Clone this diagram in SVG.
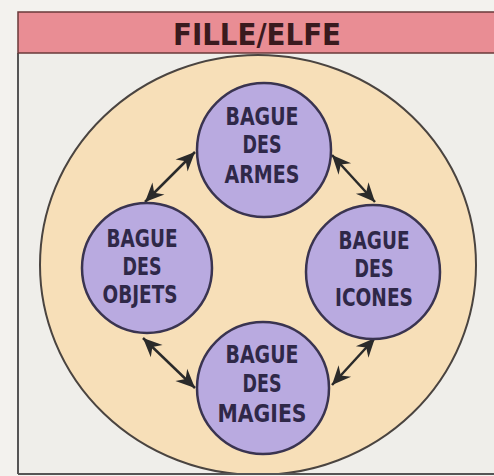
<svg xmlns="http://www.w3.org/2000/svg" width="494" height="476" viewBox="0 0 494 476">
<defs>
<style>
.ring{fill:#b9aae0;stroke:#3a3450;stroke-width:2.5}
.lbl{font-family:"DejaVu Sans Condensed","DejaVu Sans",sans-serif;font-weight:bold;font-size:24px;fill:#2f2848;text-anchor:middle}
.conn{stroke:#2a2a2a;stroke-width:2.5;fill:none}
.hd{fill:#2a2a2a}
</style>
<path id="head" d="M0,0 L-19,-8.5 L-13,0 L-19,8.5 z"/>
<clipPath id="frame"><rect x="18" y="53" width="476" height="421"/></clipPath>
</defs>
<rect width="494" height="476" fill="#f3f2ee"/>
<rect x="18" y="53" width="476" height="421" fill="#efeeea"/>
<g id="background">
<ellipse cx="258" cy="265" rx="218" ry="210" fill="#f7dfb8" stroke="#4a4440" stroke-width="2" clip-path="url(#frame)"/>
</g>
<g id="frame-lines" stroke="#555" stroke-width="2" fill="none">
<line x1="18" y1="53" x2="18" y2="474"/>
<line x1="18" y1="474" x2="494" y2="474"/>
</g>
<g id="header">
<rect x="18" y="12" width="480" height="41" fill="#e98d94" stroke="#6a3a3a" stroke-width="1.5"/>
<text x="257" y="45" font-family="'DejaVu Sans Condensed','DejaVu Sans',sans-serif" font-weight="bold" font-size="30" fill="#3a1a1e" text-anchor="middle" textLength="168" lengthAdjust="spacingAndGlyphs">FILLE/ELFE</text>
</g>
<g id="connectors">
<line class="conn" x1="145" y1="202" x2="195" y2="152"/>
<use href="#head" class="hd" transform="translate(195,152) rotate(-45)"/>
<use href="#head" class="hd" transform="translate(145,202) rotate(135)"/>
<line class="conn" x1="332" y1="155" x2="375" y2="202"/>
<use href="#head" class="hd" transform="translate(375,202) rotate(47.5)"/>
<use href="#head" class="hd" transform="translate(332,155) rotate(227.5)"/>
<line class="conn" x1="143" y1="338" x2="195" y2="388"/>
<use href="#head" class="hd" transform="translate(195,388) rotate(43.9)"/>
<use href="#head" class="hd" transform="translate(143,338) rotate(223.9)"/>
<line class="conn" x1="332" y1="385" x2="375" y2="338"/>
<use href="#head" class="hd" transform="translate(375,338) rotate(-47.5)"/>
<use href="#head" class="hd" transform="translate(332,385) rotate(132.5)"/>
</g>
<g id="armes">
<circle class="ring" cx="264" cy="150" r="67"/>
<text class="lbl" x="262" y="125" textLength="73" lengthAdjust="spacingAndGlyphs">BAGUE</text>
<text class="lbl" x="262" y="153" textLength="39" lengthAdjust="spacingAndGlyphs">DES</text>
<text class="lbl" x="262" y="183" textLength="75" lengthAdjust="spacingAndGlyphs">ARMES</text>
</g>
<g id="objets">
<circle class="ring" cx="147" cy="268" r="65"/>
<text class="lbl" x="142" y="247" textLength="71" lengthAdjust="spacingAndGlyphs">BAGUE</text>
<text class="lbl" x="142" y="275" textLength="39" lengthAdjust="spacingAndGlyphs">DES</text>
<text class="lbl" x="140" y="303" textLength="75" lengthAdjust="spacingAndGlyphs">OBJETS</text>
</g>
<g id="icones">
<circle class="ring" cx="373" cy="272" r="67"/>
<text class="lbl" x="374" y="249" textLength="71" lengthAdjust="spacingAndGlyphs">BAGUE</text>
<text class="lbl" x="374" y="277" textLength="39" lengthAdjust="spacingAndGlyphs">DES</text>
<text class="lbl" x="374" y="306" textLength="78" lengthAdjust="spacingAndGlyphs">ICONES</text>
</g>
<g id="magies">
<circle class="ring" cx="263" cy="388" r="66"/>
<text class="lbl" x="262" y="363" textLength="73" lengthAdjust="spacingAndGlyphs">BAGUE</text>
<text class="lbl" x="262" y="392" textLength="39" lengthAdjust="spacingAndGlyphs">DES</text>
<text class="lbl" x="262" y="422" textLength="89" lengthAdjust="spacingAndGlyphs">MAGIES</text>
</g>
</svg>
